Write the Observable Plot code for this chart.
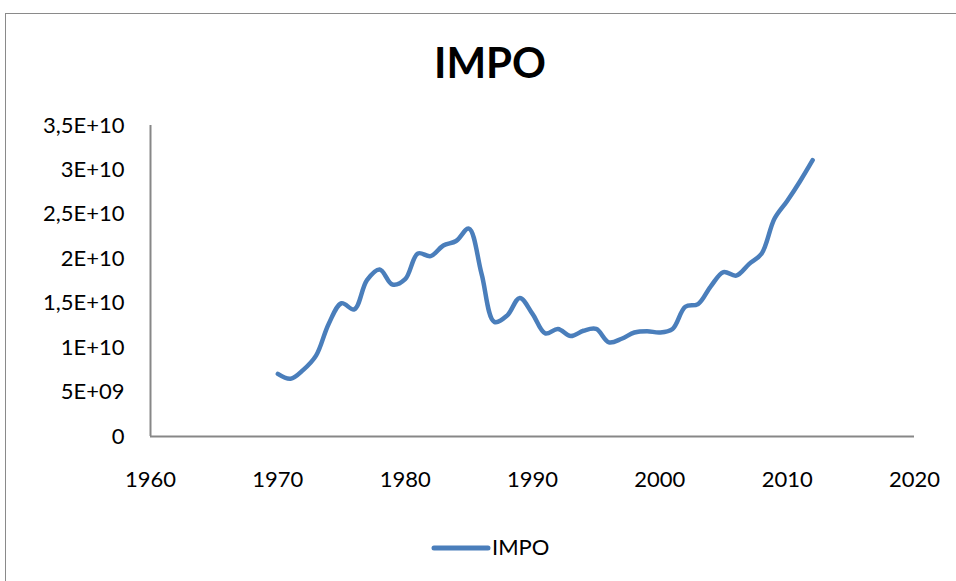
<!DOCTYPE html>
<html>
<head>
<meta charset="utf-8">
<script src="https://cdn.jsdelivr.net/npm/d3@7"></script>
<script src="https://cdn.jsdelivr.net/npm/@observablehq/plot@0.6"></script>
<style>
  html, body { margin: 0; padding: 0; background: #fff; overflow: hidden; }
  #wrap { position: relative; width: 956px; height: 581px; font-family: Lato, "Open Sans", sans-serif; }
  #frame { position: absolute; left: 5px; top: 13px; width: 1000px; height: 700px; border: 1px solid #8a8a8a; box-sizing: border-box; pointer-events: none; }
  #title { height: 100px; box-sizing: border-box; padding-top: 38px; padding-left: 24px; text-align: center; font-weight: bold; font-size: 42px; line-height: 48px; color: #000; }
  #chart svg { display: block; }
  #legend { height: 81px; position: relative; }
  #legend svg { position: absolute; left: 430px; top: 38px; }
  #legend span { position: absolute; left: 492px; top: 33px; font-size: 22px; line-height: 28px; color: #000; }
</style>
</head>
<body>
<div id="wrap">
  <div id="frame"></div>
  <div id="title">IMPO</div>
  <div id="chart"></div>
  <div id="legend"></div>
</div>
<script>
const seriesName = "IMPO";
const years = [1970,1971,1972,1973,1974,1975,1976,1977,1978,1979,1980,1981,1982,1983,1984,1985,1986,1987,1988,1989,1990,1991,1992,1993,1994,1995,1996,1997,1998,1999,2000,2001,2002,2003,2004,2005,2006,2007,2008,2009,2010,2011,2012];
const values = [7.05e9,6.5e9,7.5e9,9.1e9,12.7e9,15.0e9,14.3e9,17.6e9,18.8e9,17.1e9,17.7e9,20.6e9,20.3e9,21.5e9,22.0e9,23.4e9,18.3e9,12.9e9,13.6e9,15.6e9,13.8e9,11.6e9,12.1e9,11.3e9,11.9e9,12.1e9,10.6e9,11.0e9,11.7e9,11.85e9,11.7e9,12.1e9,14.6e9,14.9e9,16.9e9,18.5e9,18.1e9,19.4e9,20.6e9,24.5e9,26.5e9,28.7e9,31.1e9];
const xTicks = [1960,1970,1980,1990,2000,2010,2020];
const yTicks = [0,5e9,1e10,1.5e10,2e10,2.5e10,3e10,3.5e10];
const yTickLabels = ["0","5E+09","1E+10","1,5E+10","2E+10","2,5E+10","3E+10","3,5E+10"];

const data = years.map((year, i) => ({year, value: values[i]}));
const lineColor = "#4a7ebb";
const axisColor = "#878787";

const chart = Plot.plot({
  width: 956,
  height: 400,
  marginLeft: 150,
  marginRight: 42,
  marginTop: 25,
  marginBottom: 64,
  style: {fontFamily: "Lato, 'Open Sans', sans-serif", fontSize: "22px", color: "#000", background: "#fff"},
  x: {domain: [1960, 2020], ticks: xTicks, tickFormat: d => String(d), tickSize: 0, tickPadding: 35, label: null},
  y: {domain: [0, 3.5e10], ticks: yTicks, tickFormat: (d, i) => yTickLabels[yTicks.indexOf(d)], tickSize: 0, tickPadding: 26, label: null},
  marks: [
    Plot.ruleY([0], {stroke: axisColor, strokeWidth: 2}),
    Plot.ruleX([1960], {stroke: axisColor, strokeWidth: 2}),
    Plot.line(data, {x: "year", y: "value", stroke: lineColor, strokeWidth: 4.5, curve: "catmull-rom", strokeLinecap: "round", strokeLinejoin: "round"})
  ]
});
document.getElementById("chart").appendChild(chart);

const legend = document.getElementById("legend");
legend.innerHTML = `<svg width="62" height="20"><line x1="4" y1="10" x2="58" y2="10" stroke="${lineColor}" stroke-width="5" stroke-linecap="round"/></svg><span>${seriesName}</span>`;
</script>
</body>
</html>
